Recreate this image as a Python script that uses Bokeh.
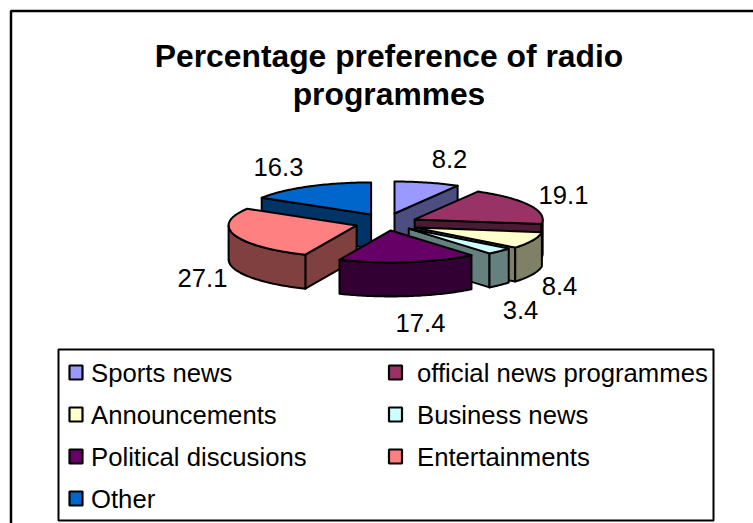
import math

from bokeh.core.properties import value
from bokeh.embed import file_html
from bokeh.models import ColumnDataSource
from bokeh.plotting import figure
from bokeh.resources import INLINE

# Chart content
title_lines = ["Percentage preference of radio", "programmes"]
categories = [
    "Sports news",
    "official news programmes",
    "Announcements",
    "Business news",
    "Political discusions",
    "Entertainments",
    "Other",
]
shares = [8.2, 19.1, 8.4, 3.4, 17.4, 27.1, 16.3]
top_colors = ["#9999FF", "#993366", "#FFFFCC", "#CCFFFF", "#660066", "#FF8080", "#0066CC"]
side_colors = ["#4D4D80", "#4D1A33", "#808066", "#668080", "#330033", "#804040", "#003366"]

# Tilted pie geometry, in page pixels
CX, CY = 386.0, 222.0
RX, RY = 128.0, 32.0
DEPTH = 34.0
EXPLODE_X = 0.245
explode_y = [0.29, 0.22, 0.40, 0.27, 0.25, 0.30, 0.29]
FONT = value("Liberation Sans")

label_xy = [(449, 158), (563, 194), (559, 285), (520, 309), (420, 322), (202, 277), (278, 166)]

WIDTH, HEIGHT = 753, 523
p = figure(
    width=WIDTH, height=HEIGHT, x_range=(0, WIDTH), y_range=(HEIGHT, 0),
    output_backend="svg", toolbar_location=None, min_border=0,
)
p.axis.visible = False
p.grid.visible = False
p.outline_line_color = None
p.background_fill_color = "white"
p.border_fill_color = "white"

# Chart frame, running off the page at the right and at the foot
p.line([10.5, 10.5, 754], [524, 10.5, 10.5], line_color="black", line_width=2.5)


def radial(angle):
    """Projected offset of a rim point at `angle` degrees clockwise from 12 o'clock."""
    a = math.radians(angle)
    return RX * math.sin(a), -RY * math.cos(a)


def arc(start, stop):
    n = max(2, int(abs(stop - start)) + 1)
    return [start + (stop - start) * i / (n - 1) for i in range(n)]


def draw_patch(xs, ys, color):
    p.patch(xs, ys, fill_color=color, line_color="black", line_width=2, line_join="round")


total = sum(shares)
start = 0.0
wedges = []
for share, top, side, ey in zip(shares, top_colors, side_colors, explode_y):
    stop = start + 360.0 * share / total
    mid_x, mid_y = radial((start + stop) / 2)
    wedges.append((start, stop, CX + EXPLODE_X * mid_x, CY + ey * mid_y, top, side))
    start = stop

# Painted back to front: Other, Sports, official, Entertainments, Announcements, Business, Political
for i in (6, 0, 1, 5, 2, 3, 4):
    a0, a1, ax, ay, top, side = wedges[i]

    # Cut faces that turn towards the viewer
    for angle, normal in ((a0, a0 - 90), (a1, a1 + 90)):
        if math.cos(math.radians(normal)) < -1e-6:
            dx, dy = radial(angle)
            draw_patch(
                [ax, ax + dx, ax + dx, ax],
                [ay, ay + dy, ay + dy + DEPTH, ay + DEPTH],
                side,
            )

    # Outer rim, only where it faces the viewer
    lo, hi = max(a0, 90.0), min(a1, 270.0)
    if lo < hi:
        rim = [radial(a) for a in arc(lo, hi)]
        xs = [ax + x for x, _ in rim]
        ys = [ay + y for _, y in rim]
        draw_patch(xs + xs[::-1], ys + [y + DEPTH for y in ys[::-1]], side)

    # Top face
    rim = [radial(a) for a in arc(a0, a1)]
    draw_patch([ax] + [ax + x for x, _ in rim], [ay] + [ay + y for _, y in rim], top)

# Title
p.text(
    x=[388.5, 388.5], y=[55, 93], text=title_lines, text_font=FONT, text_font_size="31.8px",
    text_font_style="bold", text_align="center", text_baseline="middle", text_color="black",
)

# Value labels
p.text(
    x=[xy[0] for xy in label_xy], y=[xy[1] for xy in label_xy], text=[str(s) for s in shares],
    text_font=FONT, text_font_size="25.6px", text_align="center", text_baseline="middle",
    text_color="black",
)

# Legend box with two columns of swatches
p.patch([58, 713, 713, 58], [349, 349, 520, 520], fill_color="white", line_color="black", line_width=2)
col_x = [75.5, 395]
row_y = [372, 414, 456, 498]
legend_src = ColumnDataSource(dict(
    x=[col_x[i % 2] for i in range(len(categories))],
    y=[row_y[i // 2] for i in range(len(categories))],
    tx=[col_x[i % 2] + 15 + (6.5 if i % 2 else 0) for i in range(len(categories))],
    name=categories,
    color=top_colors,
))
p.rect(x="x", y="y", width=13, height=14, source=legend_src, fill_color="color",
       line_color="black", line_width=2.2)
p.text(x="tx", y="y", text="name", source=legend_src, text_font=FONT, text_font_size="25.7px",
       text_align="left", text_baseline="middle", text_color="black")

open("out.html", "w").write(file_html(p, INLINE))
